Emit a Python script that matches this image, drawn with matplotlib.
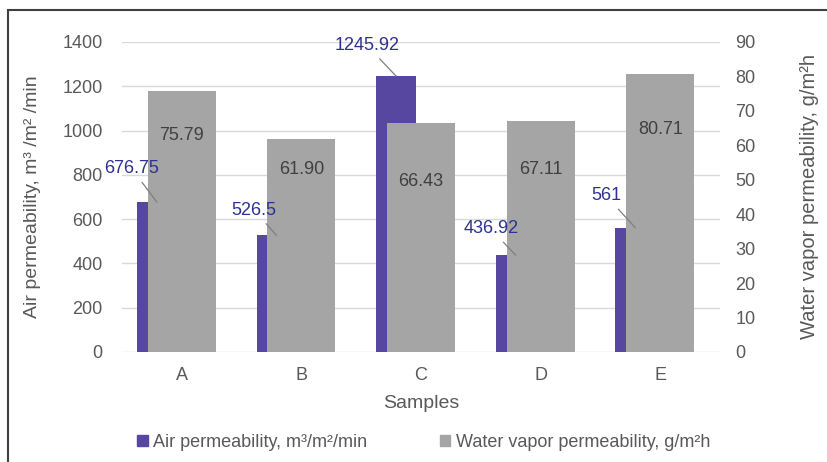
import matplotlib.pyplot as plt
import matplotlib.patches as mpatches
import numpy as np

plt.rcParams['font.family'] = ['Liberation Sans', 'DejaVu Sans']

samples = ['A', 'B', 'C', 'D', 'E']
air_perm = [676.75, 526.5, 1245.92, 436.92, 561]
vapor_perm = [75.79, 61.90, 66.43, 67.11, 80.71]
air_labels = ['676.75', '526.5', '1245.92', '436.92', '561']
vapor_labels = ['75.79', '61.90', '66.43', '67.11', '80.71']

blue = '#5847A1'
gray = '#A5A5A5'
label_blue = '#2E3192'
text_gray = '#595959'

# label placement (points), picked by eye from the reference
air_off = [(-18, 24), (-16, 18), (-21, 22), (-18, 19), (-21, 23)]
vapor_drop = [32, 22, 42, 35, 40]

fig = plt.figure(figsize=(8.28, 4.62), dpi=100)
ax1 = fig.add_axes([0.1473, 0.2381, 0.7223, 0.671])
ax2 = ax1.twinx()

x = np.arange(len(samples))
ax1.bar(x - 0.208, air_perm, width=0.333, color=blue, zorder=2)
ax2.bar(x, vapor_perm, width=0.567, color=gray, zorder=2)

ax1.set_xlim(-0.5, 4.5)
ax1.set_ylim(0, 1400)
ax2.set_ylim(0, 90)
ax1.set_yticks(range(0, 1401, 200))
ax2.set_yticks(range(0, 91, 10))
ax1.set_xticks(x)
ax1.set_xticklabels(samples)

ax1.grid(axis='y', color='#D9D9D9', linewidth=1, zorder=0)
ax1.set_axisbelow(True)
for a in (ax1, ax2):
    for s in a.spines.values():
        s.set_visible(False)
    a.tick_params(length=0, labelsize=13, colors=text_gray)
ax1.tick_params(axis='y', pad=14)
ax1.tick_params(axis='x', pad=11)
ax2.tick_params(axis='y', pad=11)

ax1.set_xlabel('Samples', fontsize=14, color=text_gray, labelpad=8)
ax1.set_ylabel('Air permeability, m\u00b3 /m\u00b2 /min', fontsize=14, color=text_gray, labelpad=15)
ax2.set_ylabel('Water vapor permeability, g/m\u00b2h', fontsize=14.5, color=text_gray, labelpad=32)

# blue labels with leader lines, drawn on top axes so they sit over gray bars
for i in range(len(samples)):
    ax2.annotate(air_labels[i], xy=(x[i] - 0.208, air_perm[i]), xycoords=ax1.transData,
                 xytext=air_off[i], textcoords='offset points',
                 ha='center', va='center', fontsize=13, color=label_blue,
                 arrowprops=dict(arrowstyle='-', color='#7F7F7F', lw=0.9,
                                 shrinkA=2, shrinkB=0), zorder=5)
    ax2.annotate(vapor_labels[i], xy=(x[i], vapor_perm[i]),
                 xytext=(0, -vapor_drop[i]), textcoords='offset points',
                 ha='center', va='center', fontsize=13, color='#404040', zorder=5)

handles = [mpatches.Patch(color=blue, label='Air permeability, m\u00b3/m\u00b2/min'),
           mpatches.Patch(color=gray, label='Water vapor permeability, g/m\u00b2h')]
leg = fig.legend(handles=handles, loc='center', bbox_to_anchor=(0.5115, 0.043), ncol=2,
                 frameon=False, fontsize=13, handlelength=0.6, handleheight=0.6,
                 handletextpad=0.3, columnspacing=4.0)
for t in leg.get_texts():
    t.set_color(text_gray)

# outer frame, cut off at the right and bottom as in the reference
fig.add_artist(mpatches.Rectangle((8 / 828, -0.1), 1.1, 1.1 - 10 / 462,
                                  transform=fig.transFigure, fill=False,
                                  edgecolor='#404040', linewidth=1.5))

fig.savefig('out.png', dpi=100)
